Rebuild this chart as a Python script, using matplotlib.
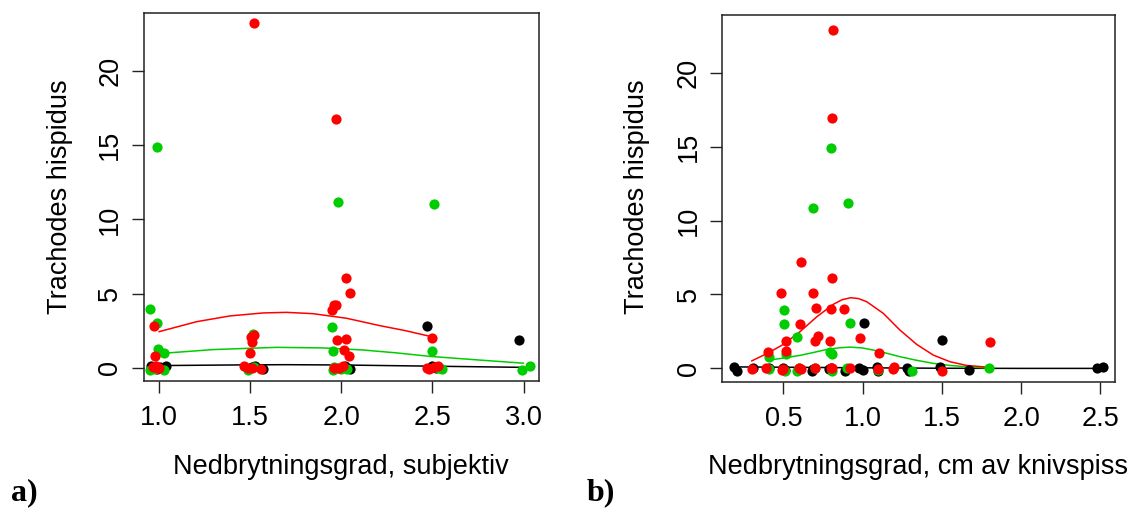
import matplotlib
matplotlib.use("Agg")
import matplotlib.pyplot as plt

# ---------------- data: panel a (subjective decay class) ----------------
a_black_x = [0.96, 0.99, 1.04, 1.03, 1.01, 1.49, 1.51, 1.57, 1.53, 1.97, 2.02, 2.05, 2.50, 2.52, 2.468, 2.976]
a_black_y = [0.10, -0.10, 0.10, -0.05, 0.05, -0.10, 0.05, -0.12, 0.10, 0.00, 0.10, -0.12, 0.10, 0.00, 2.81, 1.89]
a_green_x = [0.992, 0.952, 0.989, 0.998, 1.031, 0.95, 0.98, 1.03, 1.518, 1.49, 1.52, 1.954,
             1.984, 1.951, 1.953, 1.96, 2.00, 2.03, 2.508, 2.496, 2.53, 2.55, 2.989, 3.035]
a_green_y = [14.86, 3.98, 2.99, 1.24, 1.01, -0.15, -0.10, -0.15, 2.29, -0.15, 0.05, -0.15,
             11.2, 2.77, 1.13, 0.05, -0.12, -0.10, 11.02, 1.13, 0.00, -0.12, -0.15, 0.11]
a_red_x = [1.524, 1.973, 2.026, 2.046, 1.96, 1.97, 1.95, 2.496, 0.973, 1.524, 1.506, 1.51, 1.50,
           1.979, 2.028, 2.015, 2.044, 0.98, 0.97, 0.99, 1.00, 0.985, 1.47, 1.49, 1.51, 1.56,
           1.96, 1.99, 2.01, 2.47, 2.48, 2.51, 2.53]
a_red_y = [23.22, 16.75, 6.05, 5.04, 4.21, 4.21, 3.89, 2.00, 2.81, 2.23, 2.09, 1.75, 1.01,
           1.87, 1.96, 1.19, 0.79, 0.79, 0.05, -0.05, 0.00, 0.10, 0.10, 0.00, -0.05, -0.08,
           0.00, -0.05, 0.10, -0.05, -0.10, 0.05, 0.10]
# fitted curves
a_fit_red_x = [1.003, 1.208, 1.391, 1.573, 1.701, 1.847, 2.030, 2.213, 2.350, 2.477]
a_fit_red_y = [2.43, 3.10, 3.49, 3.69, 3.73, 3.64, 3.33, 2.83, 2.50, 2.14]
a_fit_green_x = [1.025, 1.30, 1.647, 1.90, 2.121, 2.30, 2.487, 2.75, 2.998]
a_fit_green_y = [0.97, 1.22, 1.37, 1.33, 1.19, 1.00, 0.76, 0.52, 0.30]
a_fit_black_x = [1.0, 1.5, 1.70, 2.0, 2.5, 3.0]
a_fit_black_y = [0.14, 0.19, 0.20, 0.18, 0.10, 0.02]

# ---------------- data: panel b (knife penetration, cm) ----------------
b_black_x = [0.187, 0.206, 0.31, 0.41, 0.50, 0.51, 0.68, 0.69, 0.79, 0.80, 0.89, 0.98, 1.00,
             1.09, 1.10, 1.28, 1.29, 1.49, 1.67, 2.477, 2.52, 1.007, 1.503]
b_black_y = [0.10, -0.15, 0.05, 0.00, 0.05, -0.10, -0.15, -0.05, -0.05, 0.05, -0.15, 0.05, -0.10,
             0.10, -0.15, 0.00, -0.15, 0.10, -0.10, 0.05, 0.10, 3.09, 1.94]
b_green_x = [0.799, 0.908, 0.687, 0.504, 0.504, 0.921, 0.584, 0.412, 0.517, 0.797, 0.81,
             0.41, 0.51, 0.585, 0.60, 0.70, 0.81, 0.90, 1.10, 1.31, 1.80]
b_green_y = [14.9, 11.16, 10.87, 3.92, 2.98, 3.09, 2.14, 0.79, 0.95, 1.10, 0.95,
             -0.05, -0.15, -0.15, 0.05, 0.05, -0.15, 0.05, -0.10, -0.15, 0.00]
b_red_x = [0.815, 0.807, 0.612, 0.809, 0.486, 0.685, 0.706, 0.801, 0.885, 0.607, 0.515, 0.721,
           0.700, 0.795, 0.984, 0.515, 0.403, 1.104, 1.802, 0.30, 0.39, 0.49, 0.50, 0.60, 0.61,
           0.70, 0.80, 0.81, 0.92, 1.10, 1.20, 1.19, 1.50]
b_red_y = [22.87, 16.91, 7.17, 6.13, 5.12, 5.07, 4.10, 4.01, 4.03, 2.98, 1.85, 2.19,
           1.85, 1.85, 2.07, 1.17, 1.12, 1.01, 1.78, -0.05, 0.00, -0.10, -0.05, 0.00, -0.05,
           0.05, 0.00, 0.05, 0.05, -0.05, 0.10, -0.05, -0.15]
# fitted curves
b_fit_red_x = [0.301, 0.40, 0.50, 0.605, 0.711, 0.815, 0.870, 0.925, 0.975, 1.026, 1.131,
               1.236, 1.342, 1.446, 1.552, 1.657, 1.804]
b_fit_red_y = [0.51, 1.02, 1.62, 2.48, 3.49, 4.33, 4.64, 4.78, 4.72, 4.51, 3.72,
               2.59, 1.62, 0.90, 0.45, 0.20, 0.07]
b_fit_green_x = [0.412, 0.50, 0.605, 0.70, 0.774, 0.850, 0.921, 1.00, 1.068, 1.15, 1.236,
                 1.340, 1.446, 1.550, 1.657, 1.80]
b_fit_green_y = [0.56, 0.70, 0.88, 1.10, 1.28, 1.39, 1.44, 1.38, 1.24, 1.03, 0.79,
                 0.55, 0.34, 0.20, 0.11, 0.02]
b_fit_black_x = [0.19, 0.5, 1.0, 1.5, 2.0, 2.52]
b_fit_black_y = [0.10, 0.08, 0.04, 0.01, 0.00, 0.00]

a_xticks = [1.0, 1.5, 2.0, 2.5, 3.0]
b_xticks = [0.5, 1.0, 1.5, 2.0, 2.5]
yticks = [0, 5, 10, 15, 20]
ylabel = "Trachodes hispidus"
a_xlabel = "Nedbrytningsgrad, subjektiv"
b_xlabel = "Nedbrytningsgrad, cm av knivspiss"

# ---------------- figure ----------------
W, H = 1131, 511
fig = plt.figure(figsize=(W / 100, H / 100), dpi=100)
plt.rcParams['font.family'] = ['Liberation Sans', 'DejaVu Sans']

RED = '#FF0000'
GREEN = '#00CD00'
BLACK = '#000000'
FS = 19.5
MS = 54


def px_axes(l, t, r, b):
    return fig.add_axes([l / W, 1 - b / H, (r - l) / W, (b - t) / H])


def style(ax, xticks):
    for s in ax.spines.values():
        s.set_linewidth(1.1)
        s.set_color('#222222')
    ax.set_xticks(xticks)
    ax.set_xticklabels([f"{v:.1f}" for v in xticks])
    ax.set_yticks(yticks)
    ax.set_yticklabels([str(v) for v in yticks], rotation=90, va='center')
    ax.tick_params(direction='out', length=8.5, width=1.0, color='#222222',
                   labelsize=FS)
    ax.tick_params(axis='x', pad=9)
    ax.tick_params(axis='y', pad=6)


def draw(ax, bx, by, gx, gy, rx, ry, fr, fg, fb):
    ax.plot(fb[0], fb[1], color=BLACK, lw=1.1, zorder=2)
    ax.plot(fg[0], fg[1], color=GREEN, lw=1.1, zorder=2)
    ax.plot(fr[0], fr[1], color=RED, lw=1.1, zorder=2)
    ax.scatter(bx, by, s=MS, color=BLACK, linewidths=0, zorder=3)
    ax.scatter(gx, gy, s=MS, color=GREEN, linewidths=0, zorder=3)
    ax.scatter(rx, ry, s=MS, color=RED, linewidths=0, zorder=3)


ax1 = px_axes(143.5, 13, 538.7, 381)
draw(ax1, a_black_x, a_black_y, a_green_x, a_green_y, a_red_x, a_red_y,
     (a_fit_red_x, a_fit_red_y), (a_fit_green_x, a_fit_green_y), (a_fit_black_x, a_fit_black_y))
ax1.set_xlim(0.917, 3.082)
ax1.set_ylim(-0.9, 23.92)
style(ax1, a_xticks)

ax2 = px_axes(721.7, 15, 1115, 381.7)
draw(ax2, b_black_x, b_black_y, b_green_x, b_green_y, b_red_x, b_red_y,
     (b_fit_red_x, b_fit_red_y), (b_fit_green_x, b_fit_green_y), (b_fit_black_x, b_fit_black_y))
ax2.set_xlim(0.111, 2.593)
ax2.set_ylim(-0.9, 23.9)
style(ax2, b_xticks)

# axis titles
fig.text(341 / W, 1 - 467 / H, a_xlabel, ha='center', va='center', fontsize=FS)
fig.text(918 / W, 1 - 467 / H, b_xlabel, ha='center', va='center', fontsize=FS)
fig.text(60 / W, 1 - 197 / H, ylabel, ha='center', va='center', rotation=90, fontsize=FS)
fig.text(637 / W, 1 - 197 / H, ylabel, ha='center', va='center', rotation=90, fontsize=FS)

# panel letters
fig.text(24 / W, 1 - 493 / H, "a)", ha='center', va='center', fontsize=23,
         fontweight='bold', family=['Liberation Serif', 'DejaVu Serif'])
fig.text(601 / W, 1 - 493 / H, "b)", ha='center', va='center', fontsize=23,
         fontweight='bold', family=['Liberation Serif', 'DejaVu Serif'])

fig.savefig("out.png", dpi=100)
